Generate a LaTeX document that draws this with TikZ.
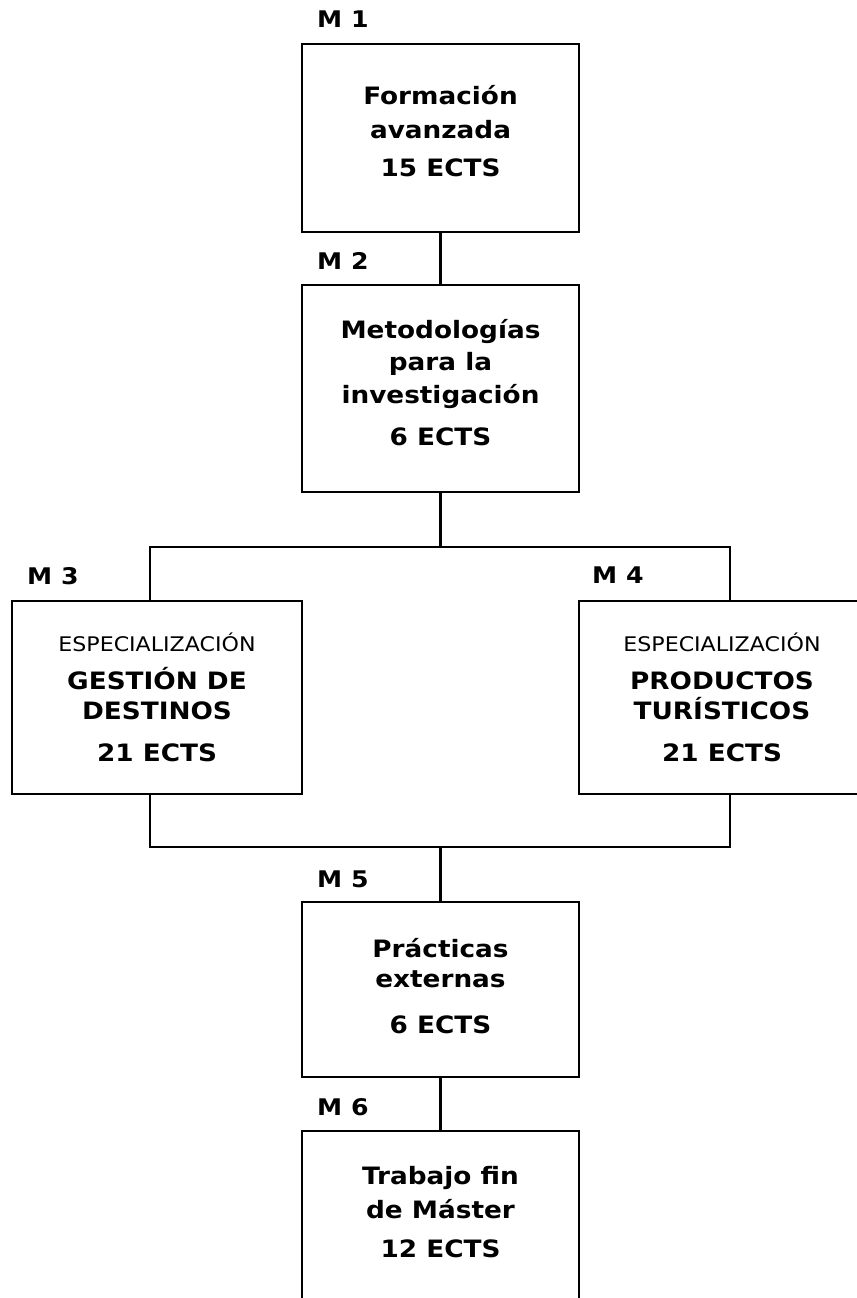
\documentclass[tikz,border=0pt]{standalone}
\usepackage{fontspec}
\newfontfamily\bxfont[FakeStretch=1.1]{DejaVu Sans}
\begin{document}
\begin{tikzpicture}[x=1bp,y=-1bp,
  box/.style={draw=black, line width=2.2bp, rectangle, inner sep=0pt, minimum width=277bp},
  conn/.style={draw=black, line width=2.2bp},
  txt/.style={anchor=base, inner sep=0pt, font=\bxfont\bfseries\fontsize{24}{24}\selectfont},
  subtxt/.style={anchor=base, inner sep=0pt, font=\bxfont\fontsize{20.2}{20.2}\selectfont},
  lbl/.style={anchor=base west, inner sep=0pt, font=\bxfont\bfseries\fontsize{23}{23}\selectfont}]
\useasboundingbox (0,0) rectangle (857,1298);
\clip (0,0) rectangle (857,1298);
\fill[white] (0,0) rectangle (857,1298);
% boxes
\node[box, minimum height=188bp] (m1) at (440.5,138) {};
\node[box, minimum height=207bp] (m2) at (440.5,388.5) {};
\node[box, minimum width=290bp, minimum height=193bp] (m3) at (157,697.5) {};
\node[box, minimum width=290bp, minimum height=193bp] (m4) at (724,697.5) {};
\node[box, minimum height=175bp] (m5) at (440.5,989.5) {};
\node[box, minimum height=189bp] (m6) at (440.5,1225.5) {};
% labels
\node[lbl] (l1) at (317,27) {M 1};
\node[lbl] (l2) at (317,269) {M 2};
\node[lbl] (l3) at (27,584) {M 3};
\node[lbl] (l4) at (592,583) {M 4};
\node[lbl] (l5) at (317,887) {M 5};
\node[lbl] (l6) at (317,1115) {M 6};
% texts M1
\node[txt] (t1a) at (440.5,104) {Formación};
\node[txt] (t1b) at (440.5,138) {avanzada};
\node[txt] (t1c) at (440.5,176) {15 ECTS};
% M2
\node[txt] (t2a) at (440.5,338) {Metodologías};
\node[txt] (t2b) at (440.5,370) {para la};
\node[txt] (t2c) at (440.5,403) {investigación};
\node[txt] (t2d) at (440.5,445) {6 ECTS};
% M3
\node[subtxt] (t3a) at (157,651) {ESPECIALIZACIÓN};
\node[txt] (t3b) at (157,689) {GESTIÓN DE};
\node[txt] (t3c) at (157,719) {DESTINOS};
\node[txt] (t3d) at (157,761) {21 ECTS};
% M4
\node[subtxt] (t4a) at (722,651) {ESPECIALIZACIÓN};
\node[txt] (t4b) at (722,689) {PRODUCTOS};
\node[txt] (t4c) at (722,719) {TURÍSTICOS};
\node[txt] (t4d) at (722,761) {21 ECTS};
% M5
\node[txt] (t5a) at (440.5,957) {Prácticas};
\node[txt] (t5b) at (440.5,987) {externas};
\node[txt] (t5c) at (440.5,1033) {6 ECTS};
% M6
\node[txt] (t6a) at (440.5,1184) {Trabajo fin};
\node[txt] (t6b) at (440.5,1218) {de Máster};
\node[txt] (t6c) at (440.5,1257) {12 ECTS};
% junctions
\coordinate (j1) at (440.5,547);
\coordinate (jl1) at (150,547);
\coordinate (jr1) at (730,547);
\coordinate (j2) at (440.5,847);
\coordinate (jl2) at (150,847);
\coordinate (jr2) at (730,847);
% connectors
\draw[conn] (m1.south) -- (m2.north);
\draw[conn] (m2.south) -- (j1);
\draw[conn] (jl1 |- m3.north) -- (jl1) -- (jr1) -- (jr1 |- m4.north);
\draw[conn] (jl2 |- m3.south) -- (jl2) -- (jr2) -- (jr2 |- m4.south);
\draw[conn] (j2) -- (m5.north);
\draw[conn] (m5.south) -- (m6.north);
\end{tikzpicture}
\end{document}
